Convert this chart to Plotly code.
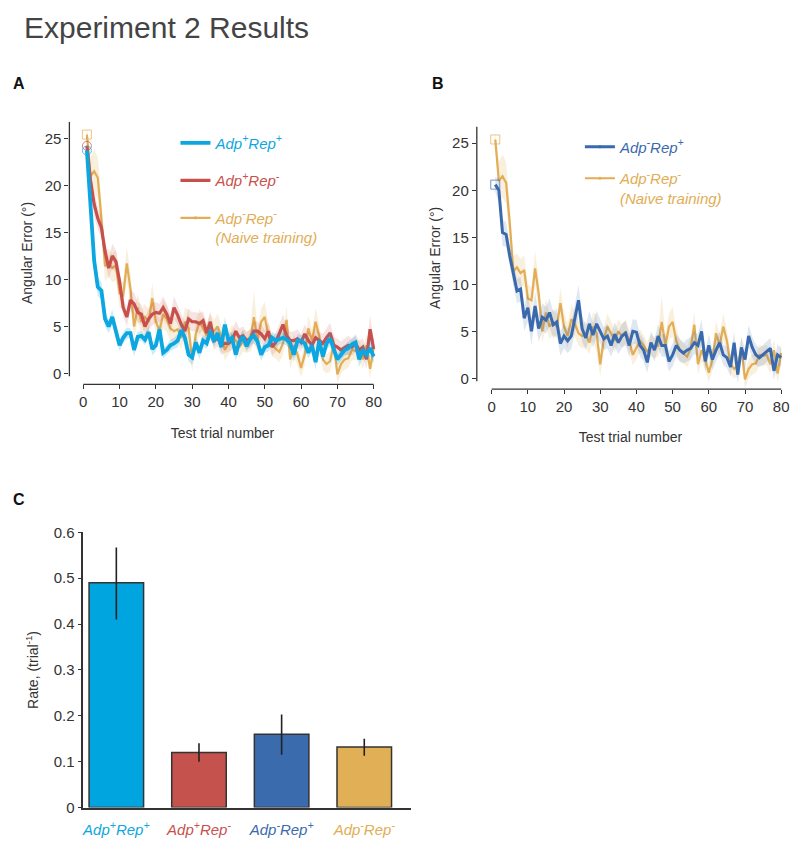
import plotly.graph_objects as go

W, H = 800, 845

trials = list(range(1, 81))

cyan_mean = [23.7, 17, 12, 9.2, 8.8, 5.8, 5.0, 6.0, 4.3, 3.0,
             3.8, 4.3, 4.3, 2.5, 3.9, 4.0, 3.6, 4.4, 2.6, 3.0,
             4.7, 2.2, 2.5, 3.0, 3.2, 3.5, 4.6, 3.8, 2.0, 1.7,
             3.3, 2.2, 3.5, 3.2, 4.5, 3.4, 4.3, 2.8, 5.2, 3.5,
             3.8, 2.0, 3.4, 3.9, 2.9, 3.7, 4.0, 3.4, 2.0, 2.8,
             3.0, 3.8, 3.5, 3.7, 3.8, 3.6, 3.2, 2.0, 3.5, 3.5,
             3.2, 2.2, 3.0, 1.2, 3.5, 1.8, 3.2, 3.7, 2.5, 1.5,
             2.0, 2.5, 2.7, 3.1, 3.3, 1.5, 2.5, 2.0, 2.7, 1.8]
cyan_se = [0.5, 1.0, 1.2, 1.0, 0.9, 0.8, 0.7, 0.8, 0.7, 0.6,
           0.6, 0.6, 0.5, 0.7, 0.6, 0.5, 0.6, 0.6, 0.7, 0.6,
           0.7, 0.6, 0.5, 0.6, 0.6, 0.7, 0.8, 0.6, 0.7, 0.8,
           0.6, 0.7, 0.6, 0.6, 0.8, 0.6, 0.7, 0.6, 0.8, 0.7,
           0.6, 0.7, 0.6, 0.7, 0.6, 0.7, 0.8, 0.6, 0.7, 0.6,
           0.7, 0.6, 0.7, 0.6, 0.7, 0.6, 0.7, 0.8, 0.7, 0.6,
           0.7, 0.6, 0.7, 0.8, 0.7, 0.6, 0.7, 0.8, 0.7, 0.6,
           0.7, 0.6, 0.7, 0.6, 0.7, 0.8, 0.7, 0.6, 0.9, 0.7]

red_mean = [24.2, 20.5, 18.0, 16.5, 15.5, 13.0, 11.2, 12.5, 11.9, 9.8,
            7.0, 6.0, 7.8, 7.4, 6.5, 6.3, 5.0, 5.8, 6.3, 6.5,
            6.4, 7.0, 6.3, 5.3, 7.0, 6.2, 5.2, 4.5, 5.8, 5.5,
            5.5, 5.3, 5.6, 4.3, 5.5, 3.5, 3.8, 3.0, 3.2, 3.2,
            3.5, 4.5, 3.8, 4.0, 3.5, 3.7, 4.5, 4.5, 4.2, 3.7,
            4.5, 2.8, 3.3, 4.2, 5.2, 4.0, 3.5, 3.5, 3.7, 3.3,
            4.2, 3.5, 3.0, 3.8, 3.5, 3.2, 3.8, 4.3, 3.0, 2.8,
            2.5, 2.8, 3.0, 2.8, 3.2, 2.5, 2.8, 1.5, 4.7, 2.6]
red_se = [0.8, 1.2, 1.3, 1.2, 1.1, 1.0, 1.1, 1.3, 1.2, 1.1,
          1.0, 1.0, 1.1, 1.2, 1.1, 1.0, 1.0, 1.1, 1.2, 1.1,
          1.0, 1.2, 1.1, 1.0, 1.2, 1.0, 1.1, 1.0, 1.1, 1.0,
          1.0, 1.1, 1.0, 1.0, 1.1, 1.0, 0.9, 1.0, 1.0, 0.9,
          1.0, 1.1, 1.0, 1.0, 0.9, 1.0, 1.1, 1.0, 1.0, 0.9,
          1.0, 0.9, 1.0, 1.0, 1.1, 1.0, 0.9, 1.0, 1.0, 0.9,
          1.0, 0.9, 1.0, 1.0, 0.9, 1.0, 1.0, 1.1, 0.9, 0.9,
          0.9, 0.9, 1.0, 0.9, 1.0, 0.9, 1.0, 1.0, 1.5, 1.0]

yellow_mean = [25.4, 21.0, 21.5, 20.8, 16.5, 11.4, 11.8, 11.2, 11.5, 8.5,
               8.3, 11.7, 9.0, 5.0, 7.0, 5.5, 6.0, 5.5, 8.0, 5.5,
               4.5, 6.3, 5.8, 4.8, 4.5, 4.7, 3.8, 5.5, 4.8, 1.5,
               4.2, 5.5, 4.8, 4.0, 5.0, 4.5, 5.0, 4.0, 2.5, 3.2,
               4.0, 3.5, 2.8, 3.5, 3.3, 3.5, 6.0, 3.5, 5.5, 6.0,
               4.0, 3.0, 2.7, 2.3, 3.2, 5.7, 1.5, 3.0, 2.0, 0.6,
               2.0, 4.8, 3.5, 5.5, 4.0, 1.5, 1.0, 1.3, 3.2, -0.1,
               1.0, 1.5, 1.6, 2.5, 2.4, 2.5, 1.5, 3.0, 0.5, 2.7]
yellow_se = [0.8, 2.0, 2.3, 2.2, 2.0, 1.6, 1.5, 1.5, 1.6, 1.5,
             1.4, 1.8, 1.6, 1.3, 1.5, 1.3, 1.4, 1.3, 1.6, 1.4,
             1.3, 1.5, 1.4, 1.3, 1.3, 1.4, 1.2, 1.5, 2.0, 1.3,
             1.3, 1.4, 1.3, 1.2, 1.3, 1.2, 1.3, 1.2, 1.1, 1.2,
             1.2, 1.1, 1.1, 1.2, 1.1, 1.2, 2.8, 1.2, 1.4, 1.6,
             1.3, 1.2, 1.1, 1.1, 1.2, 1.4, 1.1, 1.2, 1.1, 1.0,
             1.1, 1.3, 1.2, 1.4, 1.2, 1.1, 1.0, 1.1, 1.2, 1.0,
             1.0, 1.1, 1.0, 1.1, 1.0, 1.1, 1.0, 1.1, 1.0, 1.1]

blue_mean = [20.6, 20.0, 15.5, 15.3, 13.0, 11.2, 9.3, 9.5, 6.4, 7.5,
             5.0, 7.7, 5.3, 6.5, 6.2, 7.0, 5.7, 6.0, 3.7, 4.5,
             4.0, 4.5, 6.3, 8.3, 5.3, 4.3, 5.8, 4.6, 5.8, 5.0,
             4.2, 4.5, 3.5, 4.7, 3.8, 4.5, 4.8, 3.5, 5.0, 4.9,
             3.5, 3.0, 1.7, 3.8, 3.0, 4.5, 3.5, 3.5, 1.8, 2.5,
             3.5, 3.0, 2.7, 3.0, 3.2, 3.8, 3.5, 5.0, 1.8, 3.5,
             2.0, 3.0, 3.8, 2.5, 2.2, 1.2, 3.8, 0.4, 3.3, 2.0,
             4.5, 3.3, 2.5, 2.2, 2.5, 2.8, 3.2, 0.8, 2.5, 2.2]
blue_se = [0.8, 1.3, 1.4, 1.3, 1.3, 1.2, 1.3, 1.3, 1.4, 1.5,
           1.4, 1.5, 1.4, 1.5, 1.4, 1.5, 1.4, 1.4, 1.3, 1.3,
           1.3, 1.4, 1.5, 1.6, 1.4, 1.3, 1.4, 1.3, 1.4, 1.3,
           1.2, 1.3, 1.2, 1.3, 1.2, 1.3, 1.3, 1.2, 1.3, 1.3,
           1.2, 1.2, 1.1, 1.2, 1.2, 1.3, 1.2, 1.2, 1.1, 1.2,
           1.2, 1.2, 1.1, 1.2, 1.2, 1.2, 1.2, 1.3, 1.1, 1.2,
           1.1, 1.2, 1.2, 1.1, 1.1, 1.0, 1.2, 1.0, 1.1, 1.1,
           1.2, 1.1, 1.1, 1.0, 1.1, 1.1, 1.1, 1.0, 1.1, 1.0]

bar_labels = ["Adp+Rep+", "Adp+Rep-", "Adp-Rep+", "Adp-Rep-"]
bar_values = [0.49, 0.12, 0.16, 0.132]
bar_err_up = [0.077, 0.02, 0.043, 0.018]
bar_err_dn = [0.08, 0.02, 0.045, 0.019]

C_CYAN = "#0ca6e0"
C_RED = "#c8504c"
C_BLUE = "#3a6aae"
C_YEL = "#e2ad54"
BAND = {C_CYAN: "rgba(12,166,224,0.22)", C_RED: "rgba(200,80,76,0.16)",
        C_BLUE: "rgba(58,106,174,0.16)", C_YEL: "rgba(226,173,84,0.2)"}

SUP = '<sup style="font-size:11px">'
NAMES = {
    "pp": f"Adp{SUP}+</sup>Rep{SUP}+</sup>",
    "pm": f"Adp{SUP}+</sup>Rep{SUP}-</sup>",
    "mp": f"Adp{SUP}-</sup>Rep{SUP}+</sup>",
    "mm": f"Adp{SUP}-</sup>Rep{SUP}-</sup>",
}


def leg_name(key, color, extra=""):
    return f'<span style="color:{color}"><i>{NAMES[key]}{extra}</i></span>'


fig = go.Figure()


def add_series(mean, se, color, width, symbol, name, xa, ya, legend, rank, group):
    upper = [m + s for m, s in zip(mean, se)]
    lower = [m - s for m, s in zip(mean, se)]
    fig.add_trace(go.Scatter(
        x=trials + trials[::-1], y=upper + lower[::-1], fill="toself",
        fillcolor=BAND[color], line=dict(width=0), mode="lines",
        hoverinfo="skip", showlegend=False, xaxis=xa, yaxis=ya))
    sizes = [9] + [0] * (len(trials) - 1)
    fig.add_trace(go.Scatter(
        x=trials, y=mean, mode="lines+markers", name=name,
        line=dict(color=color, width=width),
        marker=dict(symbol=symbol, size=sizes, color=color,
                    line=dict(color=color, width=1)),
        xaxis=xa, yaxis=ya, legend=legend, legendrank=rank, legendgroup=group))


# Panel A: draw yellow, red, then cyan on top
add_series(yellow_mean, yellow_se, C_YEL, 2.2, "square-open",
           leg_name("mm", C_YEL, "<br>(Naive training)"), "x", "y", "legend", 3, "a3")
add_series(red_mean, red_se, C_RED, 3.2, "circle-open",
           leg_name("pm", C_RED), "x", "y", "legend", 2, "a2")
add_series(cyan_mean, cyan_se, C_CYAN, 3.8, "circle-open",
           leg_name("pp", C_CYAN), "x", "y", "legend", 1, "a1")

# Panel B
add_series(yellow_mean, yellow_se, C_YEL, 2.2, "square-open",
           leg_name("mm", C_YEL, "<br>(Naive training)"), "x2", "y2", "legend2", 2, "b2")
add_series(blue_mean, blue_se, C_BLUE, 3.0, "square-open",
           leg_name("mp", C_BLUE), "x2", "y2", "legend2", 1, "b1")

# Panel C
bar_colors = [C_CYAN, C_RED, C_BLUE, C_YEL]
bar_fill = ["#00a4df", "#c5524d", "#3a6bac", "#e1af55"]
fig.add_trace(go.Bar(
    x=list(range(len(bar_values))), y=bar_values, width=0.66,
    marker=dict(color=bar_fill, line=dict(color="#333333", width=1.5)),
    error_y=dict(type="data", array=bar_err_up, arrayminus=bar_err_dn,
                 color="#222222", thickness=1.6, width=0),
    showlegend=False, xaxis="x3", yaxis="y3"))

FAM = "Liberation Sans, Arial, sans-serif"
tick_font = dict(family=FAM, size=15, color="#333333")
title_font = dict(family=FAM, size=14, color="#333333")


def px_x(a, b):
    return [a / W, b / W]


def px_y(top, bottom):
    return [1 - bottom / H, 1 - top / H]


common_x = dict(showline=False, zeroline=False, showgrid=False, ticks="outside",
                ticklen=4, tickcolor="#333333", tickfont=tick_font)
common_y = dict(showline=False, zeroline=False, showgrid=False, ticks="outside",
                ticklen=4, tickcolor="#333333", tickfont=tick_font)

ticks_x = [0, 10, 20, 30, 40, 50, 60, 70, 80]
ticks_y = [0, 5, 10, 15, 20, 25]

fig.update_layout(
    width=W, height=H, margin=dict(l=0, r=0, t=0, b=0),
    paper_bgcolor="white", plot_bgcolor="white",
    font=dict(family=FAM),
    xaxis=dict(domain=px_x(69, 378), range=[-3.82, 80.55], tickvals=ticks_x,
               anchor="y", title=dict(text="Test trial number", font=title_font, standoff=18),
               **common_x),
    yaxis=dict(domain=px_y(115, 383), range=[-1.15, 26.77], tickvals=ticks_y,
               anchor="x", title=dict(text="Angular Error (°)", font=title_font, standoff=8),
               **common_y),
    xaxis2=dict(domain=px_x(480, 790), range=[-4.1, 80.8], tickvals=ticks_x,
                anchor="y2", title=dict(text="Test trial number", font=title_font, standoff=18),
                **common_x),
    yaxis2=dict(domain=px_y(120, 388), range=[-1.15, 26.77], tickvals=ticks_y,
                anchor="x2", title=dict(text="Angular Error (°)", font=title_font, standoff=8),
                **common_y),
    xaxis3=dict(domain=px_x(83, 414), range=[-0.4, 3.57], anchor="y3",
                tickvals=list(range(len(bar_labels))),
                ticktext=[leg_name(k, c) for k, c in zip(["pp", "pm", "mp", "mm"], bar_colors)],
                showline=True, linecolor="#333333", linewidth=1.5, ticks="",
                showgrid=False, zeroline=False, ticklabelstandoff=8,
                tickfont=dict(family=FAM, size=15)),
    yaxis3=dict(domain=px_y(534, 815), range=[0, 0.6], dtick=0.1, anchor="x3",
                showline=True, linecolor="#333333", linewidth=1.5, ticks="outside",
                ticklen=4, tickcolor="#333333", showgrid=False, zeroline=False,
                tickfont=tick_font,
                title=dict(text="Rate, (trial<sup>-1</sup>)", font=title_font, standoff=12)),
    legend=dict(x=176 / W, y=1 - 120 / H, xanchor="left", yanchor="top",
                bgcolor="rgba(0,0,0,0)", font=dict(size=15), tracegroupgap=15,
                valign="top", itemwidth=30, traceorder="grouped"),
    legend2=dict(x=584 / W, y=1 - 124 / H, xanchor="left", yanchor="top",
                 bgcolor="rgba(0,0,0,0)", font=dict(size=15), tracegroupgap=9,
                 valign="top", itemwidth=30, traceorder="grouped"),
    showlegend=True,
)

# detached axis lines (MATLAB-like offset axes) for panels A and B
for xa, ya in [("x", "y"), ("x2", "y2")]:
    fig.add_shape(type="line", xref=xa, yref=f"{ya} domain", x0=0, x1=80, y0=0, y1=0,
                  line=dict(color="#333333", width=1.3))
    fig.add_shape(type="line", xref=f"{xa} domain", yref=ya, x0=0, x1=0, y0=-0.3, y1=26.77,
                  line=dict(color="#333333", width=1.3))

fig.add_annotation(text="Experiment 2 Results", x=21 / W, y=1 - 19 / H, xref="paper", yref="paper",
                   xanchor="left", yanchor="middle", showarrow=False,
                   font=dict(family=FAM, size=30, color="#444444"))
for lab, xp, yp in [("A", 10, 76), ("B", 433, 76), ("C", 10, 501)]:
    fig.add_annotation(text=f"<b>{lab}</b>", x=xp / W, y=1 - yp / H, xref="paper", yref="paper",
                       xanchor="left", yanchor="middle", showarrow=False,
                       font=dict(family=FAM, size=16, color="#111111"))

fig.write_html("out.html", config={"displayModeBar": False})

with open("out.html", "r", encoding="utf-8") as f:
    html = f.read()
html = html.replace("<head>", "<head><style>html,body{margin:0;padding:0;overflow:hidden;}</style>", 1)
with open("out.html", "w", encoding="utf-8") as f:
    f.write(html)
